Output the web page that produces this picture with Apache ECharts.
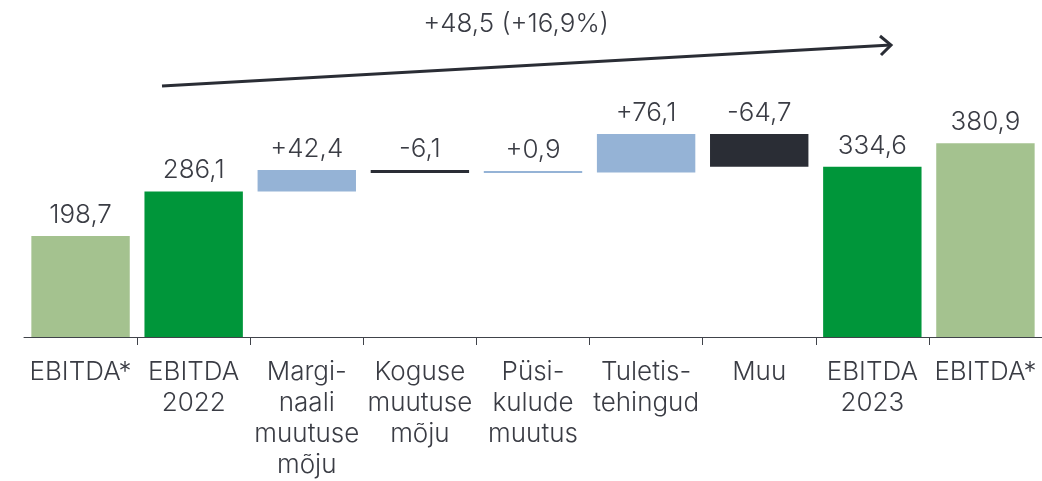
<!DOCTYPE html>
<html>
<head>
<meta charset="utf-8">
<script src="https://cdn.jsdelivr.net/npm/echarts@6/dist/echarts.min.js"></script>
<style>
  html, body { margin: 0; padding: 0; background: #fff; }
  #chart { width: 1042px; height: 481px; }
</style>
</head>
<body>
<div id="chart"></div>
<script>
// andmed
const categories = ['EBITDA*', 'EBITDA\n2022', 'Margi-\nnaali\nmuutuse\nmõju', 'Koguse\nmuutuse\nmõju',
  'Püsi-\nkulude\nmuutus', 'Tuletis-\ntehingud', 'Muu', 'EBITDA\n2023', 'EBITDA*']
// 'total' = terve tulp nullist, 'delta' = muutus eelmisest
const kinds = ['total', 'total', 'delta', 'delta', 'delta', 'delta', 'delta', 'total', 'total']
const values = [198.7, 286.1, 42.4, -6.1, 0.9, 76.1, -64.7, 334.6, 380.9]
const bridgeText = '+48,5 (+16,9%)'

const font = 'Inter, "Noto Sans", sans-serif'
const textColor = '#3a3c44'
const colors = {
  light: '#a4c28f',
  dark: '#00963a',
  up: '#95b3d6',
  down: '#2a2d35'
}
const barColors = [colors.light, colors.dark, null, null, null, null, null, colors.dark, colors.light]

// sildade alused
let running = 0
const base = []
const visible = []
values.forEach((v, i) => {
  if (kinds[i] === 'total') {
    base.push(0)
    visible.push(v)
    if (i === 1) running = v
  } else {
    if (v >= 0) {
      base.push(running)
      visible.push(v)
    } else {
      base.push(running + v)
      visible.push(-v)
    }
    running += v
  }
})

function fmt(v, i) {
  let s = Math.abs(v).toFixed(1).replace('.', ',')
  if (kinds[i] === 'delta') s = (v >= 0 ? '+' : '-') + s
  return s
}

const chart = echarts.init(document.getElementById('chart'))
chart.setOption({
  animation: false,
  textStyle: { fontFamily: font, fontWeight: 300 },
  grid: { left: 24, right: 0, top: 37, bottom: 144 },
  xAxis: {
    type: 'category',
    data: categories,
    axisLine: { lineStyle: { color: '#40434a', width: 1 } },
    axisTick: {
      show: true,
      length: 8,
      lineStyle: { color: '#40434a' },
      interval: (idx) => idx > 0
    },
    axisLabel: {
      interval: 0,
      color: textColor,
      fontSize: 26,
      fontWeight: 300,
      lineHeight: 31,
      margin: 20,
      align: 'center'
    }
  },
  yAxis: {
    type: 'value',
    min: 0,
    max: 590,
    show: false,
    splitLine: { show: false }
  },
  series: [
    {
      type: 'bar',
      stack: 'w',
      silent: true,
      barCategoryGap: '13%',
      itemStyle: { color: 'transparent' },
      data: base
    },
    {
      type: 'bar',
      stack: 'w',
      barCategoryGap: '13%',
      barMinHeight: 2,
      data: visible.map((v, i) => ({
        value: v,
        itemStyle: {
          color: barColors[i] || (values[i] >= 0 ? colors.up : colors.down)
        }
      })),
      label: {
        show: true,
        position: 'top',
        distance: 8,
        color: textColor,
        fontSize: 26,
        fontWeight: 300,
        formatter: p => fmt(values[p.dataIndex], p.dataIndex)
      }
    }
  ],
  graphic: [
    {
      type: 'text',
      x: 516,
      y: 24,
      style: {
        text: bridgeText, fill: textColor, fontSize: 26, fontWeight: 300, fontFamily: font,
        align: 'center', verticalAlign: 'middle'
      }
    },
    {
      type: 'line',
      shape: { x1: 162, y1: 86, x2: 891, y2: 45 },
      style: { stroke: '#2a2d35', lineWidth: 3 }
    },
    {
      type: 'polyline',
      shape: { points: [[880, 36], [891, 45], [881, 55]] },
      style: { stroke: '#2a2d35', lineWidth: 3, fill: null, lineJoin: 'miter' }
    }
  ]
})
</script>
</body>
</html>
